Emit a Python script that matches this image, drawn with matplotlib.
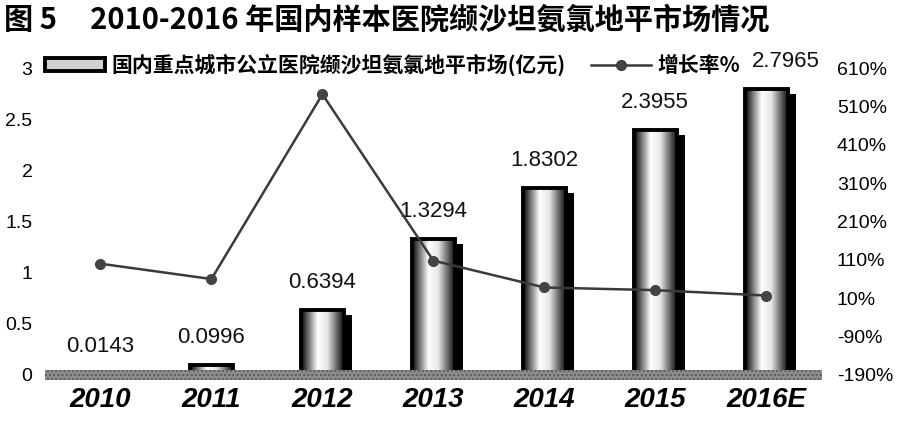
import numpy as np
import matplotlib
matplotlib.use("Agg")
import matplotlib.pyplot as plt
from matplotlib.colors import LinearSegmentedColormap
from matplotlib.patches import Rectangle, Patch
from matplotlib.lines import Line2D

plt.rcParams["font.family"] = ["Liberation Sans", "Noto Sans CJK SC", "DejaVu Sans"]

# Data
years = ["2010", "2011", "2012", "2013", "2014", "2015", "2016E"]
market = [0.0143, 0.0996, 0.6394, 1.3294, 1.8302, 2.3955, 2.7965]  # 亿元
growth = [100, 60, 542, 108, 38, 31, 17]  # %
left_ticks = [0, 0.5, 1, 1.5, 2, 2.5, 3]
left_labels = ["0", "0.5", "1", "1.5", "2", "2.5", "3"]
right_ticks = list(range(-190, 611, 100))

title = "图 5     2010-2016 年国内样本医院缬沙坦氨氯地平市场情况"
bar_label = "国内重点城市公立医院缬沙坦氨氯地平市场(亿元)"
line_label = "增长率%"

cyl = LinearSegmentedColormap.from_list(
    "cyl",
    [(0, "#000000"), (0.1, "#444444"), (0.38, "#ffffff"), (0.6, "#e6e6e6"),
     (0.85, "#555555"), (1, "#000000")],
)
grad = np.linspace(0, 1, 256).reshape(1, -1)

fig = plt.figure(figsize=(9, 4.4), dpi=100)
ax = fig.add_axes([0.05, 0.148, 0.863, 0.697])

x = np.arange(len(years))
w = 0.39
for i, (xi, v) in enumerate(zip(x, market)):
    # shadow
    ax.add_patch(Rectangle((xi - w / 2 + 0.075, 0), w, max(v - 0.05, 0),
                           facecolor="black", edgecolor="none", zorder=1))
    ax.imshow(grad, extent=(xi - w / 2, xi + w / 2, 0, v), aspect="auto",
              cmap=cyl, zorder=2, interpolation="bilinear")
    ax.add_patch(Rectangle((xi - w / 2, 0), w, v, facecolor="none",
                           edgecolor="black", linewidth=2.8, zorder=2.5))
    # last label sits to the right of the legend
    dx = 14 if i == len(market) - 1 else 0
    ax.annotate(f"{v:.4f}", (xi, v), xytext=(dx, 12), textcoords="offset points",
                ha="center", va="bottom", fontsize=16, color="#111")

# floor band
ax.axhspan(-0.05, 0.05, facecolor="#8c8c8c", edgecolor="#5a5a5a", hatch="....",
           linewidth=0, zorder=3, clip_on=False)

ax.set_xlim(-0.5, len(years) - 0.5)
ax.set_ylim(0, 3)
ax.set_xticks(x)
ax.set_xticklabels(years, fontsize=20, fontweight="bold", fontstyle="italic")
ax.set_yticks(left_ticks)
ax.set_yticklabels(left_labels, fontsize=14)
ax.tick_params(axis="both", length=0)
ax.tick_params(axis="x", pad=9)
ax.tick_params(axis="y", pad=9)
for s in ax.spines.values():
    s.set_visible(False)

ax2 = ax.twinx()
ax2.plot(x, growth, color="#3a3a3a", linewidth=1.8, marker="o", markersize=7,
         markerfacecolor="#444444", markeredgecolor="#444444", zorder=5)
ax2.set_ylim(-190, 610)
ax2.set_yticks(right_ticks)
ax2.set_yticklabels([f"{t}%" for t in right_ticks], fontsize=14)
ax2.tick_params(axis="y", length=0, pad=11)
for s in ax2.spines.values():
    s.set_visible(False)

handles = [
    Patch(facecolor="#d0d0d0", edgecolor="black", linewidth=2.8),
    Line2D([0], [0], color="#3a3a3a", linewidth=1.8, marker="o", markersize=7,
           markerfacecolor="#444444"),
]
leg = ax2.legend(handles, [bar_label, line_label], loc="center left",
                 bbox_to_anchor=(0.0, 1.01), ncol=2, frameon=False,
                 borderpad=0, borderaxespad=0,
                 handlelength=2.9, handleheight=0.6, handletextpad=0.3,
                 columnspacing=1.2,
                 prop={"family": ["Noto Sans CJK SC"], "weight": "bold", "size": 15})

fig.text(0.005, 0.99, title, ha="left", va="top", fontsize=21,
         family=["Noto Sans CJK SC", "DejaVu Sans"], fontweight="bold")

fig.savefig("out.png", dpi=100)
